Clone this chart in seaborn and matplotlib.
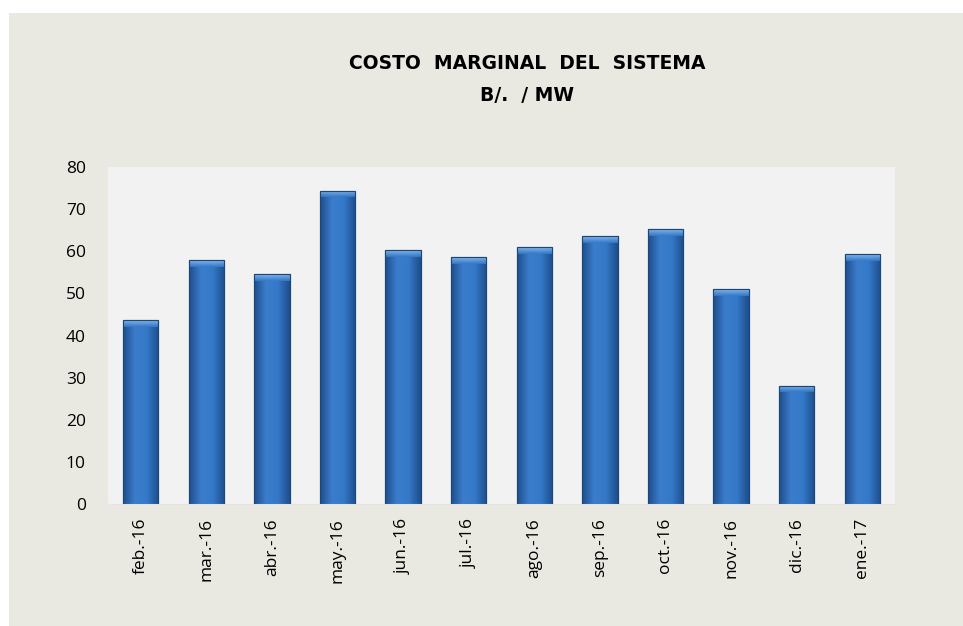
import numpy as np
import pandas as pd
import matplotlib
matplotlib.use("Agg")
import matplotlib.pyplot as plt
import seaborn as sns
from matplotlib.patches import Rectangle
from matplotlib.colors import LinearSegmentedColormap

# data
meses = ['feb.-16', 'mar.-16', 'abr.-16', 'may.-16', 'jun.-16', 'jul.-16',
         'ago.-16', 'sep.-16', 'oct.-16', 'nov.-16', 'dic.-16', 'ene.-17']
costo = [43.6, 57.9, 54.5, 74.4, 60.2, 58.6, 61.0, 63.6, 65.2, 51.0, 28.1, 59.3]
y_ticks = [0, 10, 20, 30, 40, 50, 60, 70, 80]

titulo = 'COSTO  MARGINAL  DEL  SISTEMA'
subtitulo = 'B/.  / MW'

df = pd.DataFrame({'mes': meses, 'costo': costo})

sns.set_style('white')
plt.rcParams['font.family'] = ['Open Sans', 'DejaVu Sans']

fig = plt.figure(figsize=(9.63, 6.26), dpi=100, facecolor='white')
# gray chart area behind everything
fig.patches.append(Rectangle((9 / 963, 0), 1, 1 - 13 / 626, transform=fig.transFigure,
                             facecolor='#EAE9E1', edgecolor='none', zorder=-10))

ax = fig.add_axes([108 / 963, 1 - 504 / 626, 787 / 963, 337 / 626])
ax.set_zorder(1)
ax.set_facecolor('#F2F2F2')

sns.barplot(data=df, x='mes', y='costo', color='#2F6DB5', width=0.54,
            edgecolor='#1C4677', linewidth=0.8, saturation=1, ax=ax, zorder=2)

# fake the bevelled look: horizontal gradient inside every bar, lighter cap on top
grad = LinearSegmentedColormap.from_list('bev', ['#1F4E8C', '#3A7DCB', '#3479C8', '#1F4E8C'])
cap_grad = LinearSegmentedColormap.from_list('cap', ['#3479C8', '#8CBDF0'])
g = np.linspace(0, 1, 64).reshape(1, -1)
gv = np.linspace(0, 1, 32).reshape(-1, 1)
for bar in list(ax.patches):
    x0, w, h = bar.get_x(), bar.get_width(), bar.get_height()
    im = ax.imshow(g, cmap=grad, extent=[x0, x0 + w, 0, h], aspect='auto', zorder=2.5)
    im.set_clip_path(bar)
    cap = ax.imshow(gv, cmap=cap_grad, origin='lower', extent=[x0, x0 + w, h - 1.6, h],
                    aspect='auto', zorder=2.6, alpha=0.9)
    cap.set_clip_path(bar)
    ax.add_patch(Rectangle((x0, 0), w, h, facecolor='none', edgecolor='#1C4677',
                           linewidth=0.8, zorder=2.7))

ax.set_xlim(-0.5, len(meses) - 0.5)
ax.set_ylim(0, 80)
ax.set_yticks(y_ticks)
ax.set_xlabel('')
ax.set_ylabel('')
ax.tick_params(axis='y', labelsize=12.5, length=0, pad=16, colors='black')
ax.tick_params(axis='x', labelsize=12.5, length=0, pad=10, colors='black', rotation=90)
ax.set_xticks(np.arange(-0.5, len(meses)), minor=True)
ax.tick_params(axis='x', which='minor', length=6, color='#E4E4E4', width=1)
for s in ['top', 'right', 'left']:
    ax.spines[s].set_visible(False)
ax.spines['bottom'].set_color('#E4E4E4')

fig.text(0.547, 0.899, titulo, ha='center', va='center', fontsize=13.5,
         fontweight='bold', color='black', family='DejaVu Sans')
fig.text(0.547, 0.848, subtitulo, ha='center', va='center', fontsize=13.5,
         fontweight='bold', color='black', family='DejaVu Sans')

fig.savefig('out.png', dpi=100, facecolor='white')
